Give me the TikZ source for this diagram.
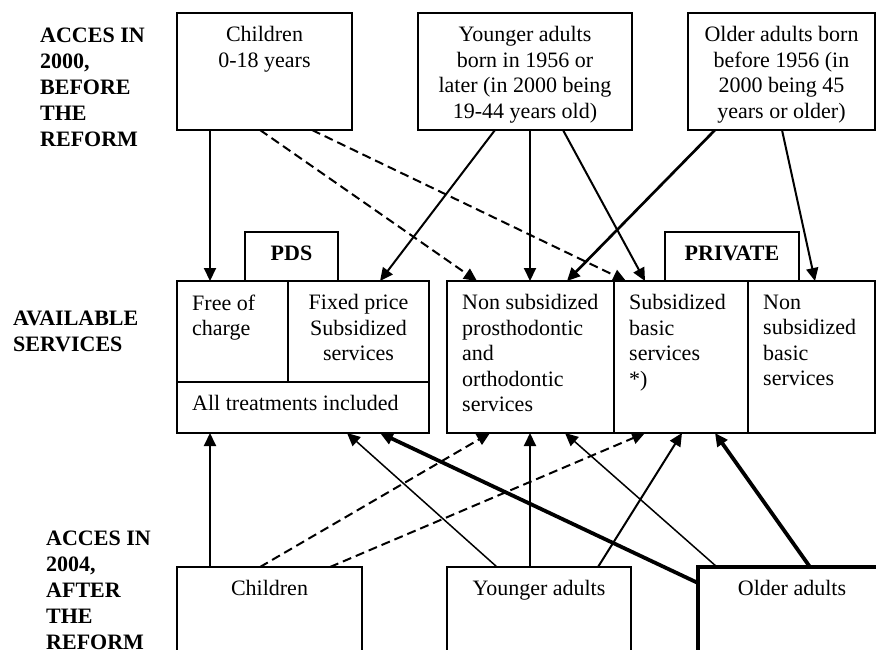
\documentclass[tikz,border=0pt]{standalone}
\usepackage{fontspec}
\setmainfont{Liberation Serif}
\usetikzlibrary{arrows.meta}

\begin{document}
\begin{tikzpicture}[x=1pt,y=-1pt,
    font=\fontsize{22}{25.5}\selectfont,
    box/.style={draw, line width=1.4pt, rectangle, anchor=north west, inner sep=0pt, outer sep=0pt},
    mid/.style={anchor=north, align=center, yshift=-13.5pt, inner sep=0pt},
    lft/.style={anchor=north west, align=left, xshift=15pt, yshift=-13.5pt, inner sep=0pt},
    head/.style={anchor=north west, align=left, inner sep=0pt, font=\fontsize{22}{26}\selectfont\bfseries},
    arr/.style={-{Triangle[length=13pt,width=12pt]}, line width=2pt},
    dsh/.style={arr, dash pattern=on 9pt off 5pt},
    lite/.style={arr, line width=1.5pt},
    thk/.style={arr, line width=3.8pt}]
    \clip (0,0) rectangle (876,649);

    % row titles
    \node[head] (hbefore) at (40,27.5) {ACCES IN\\2000,\\BEFORE\\THE\\REFORM};
    \node[head] (hserv) at (13,310.5) {AVAILABLE\\SERVICES};
    \node[head] (hafter) at (46,530.5) {ACCES IN\\2004,\\AFTER\\THE\\REFORM};

    % groups in 2000
    \node[box, minimum width=175pt, minimum height=117pt, label={[mid]north:Children\\0-18 years}] (ch0) at (177,13) {};
    \node[box, minimum width=214pt, minimum height=117pt, label={[mid]north:Younger adults\\born in 1956 or\\later (in 2000 being\\19-44 years old)}] (ya0) at (418,13) {};
    \node[box, minimum width=187pt, minimum height=117pt, label={[mid]north:Older adults born\\before 1956 (in\\2000 being 45\\years or older)}] (oa0) at (688,13) {};

    % services
    \node[box, minimum width=93pt, minimum height=49pt, label={[mid]north:\bfseries PDS}] (pds) at (245,232) {};
    \node[box, minimum width=134pt, minimum height=49pt, label={[mid]north:\bfseries PRIVATE}] (priv) at (665,232) {};
    \node[box, minimum width=111pt, minimum height=101pt, label={[lft]north west:Free of\\charge}] (free) at (177,281) {};
    \node[box, minimum width=141pt, minimum height=101pt, label={[mid]north:Fixed price\\Subsidized\\services}] (fixed) at (288,281) {};
    \node[box, minimum width=252pt, minimum height=51pt, label={[lft]north west:All treatments included}] (alltr) at (177,382) {};
    \node[box, minimum width=167pt, minimum height=152pt, label={[lft]north west:Non subsidized\\prosthodontic\\and\\orthodontic\\services}] (nsprost) at (447,281) {};
    \node[box, minimum width=134pt, minimum height=152pt, label={[lft]north west:Subsidized\\basic\\services\\*)}] (subbas) at (614,281) {};
    \node[box, minimum width=127pt, minimum height=152pt, label={[lft]north west:Non\\subsidized\\basic\\services}] (nsbas) at (748,281) {};

    % groups in 2004
    \node[box, minimum width=185pt, minimum height=100pt, label={[mid]north:Children}] (ch1) at (177,567) {};
    \node[box, minimum width=184pt, minimum height=100pt, label={[mid]north:Younger adults}] (ya1) at (447,567) {};
    \node[box, line width=3.5pt, minimum width=200pt, minimum height=100pt, label={[mid,xshift=-6pt]north:Older adults}] (oa1) at (698,567) {};

    % before the reform
    \draw[arr] ([xshift=33pt]ch0.south west) -- ([xshift=33pt]free.north west);
    \draw[dsh] ([xshift=83pt]ch0.south west) -- ([xshift=30pt]nsprost.north west);
    \draw[dsh] ([xshift=135pt]ch0.south west) -- ([xshift=12pt]subbas.north west);
    \draw[arr] ([xshift=77pt]ya0.south west) -- ([xshift=92pt]fixed.north west);
    \draw[arr] ([xshift=112pt]ya0.south west) -- ([xshift=83pt]nsprost.north west);
    \draw[arr] ([xshift=145pt]ya0.south west) -- ([xshift=31pt]subbas.north west);
    \draw[arr, line width=2.7pt] ([xshift=27pt]oa0.south west) -- ([xshift=120pt]nsprost.north west);
    \draw[arr] ([xshift=94pt]oa0.south west) -- ([xshift=67pt]nsbas.north west);

    % after the reform
    \draw[arr] ([xshift=33pt]ch1.north west) -- ([xshift=33pt]alltr.south west);
    \draw[dsh] ([xshift=83pt]ch1.north west) -- ([xshift=43pt]nsprost.south west);
    \draw[dsh] ([xshift=153pt]ch1.north west) -- ([xshift=31pt]subbas.south west);
    \draw[lite] ([xshift=50pt]ya1.north west) -- ([xshift=170pt]alltr.south west);
    \draw[arr] ([xshift=83pt]ya1.north west) -- ([xshift=83pt]nsprost.south west);
    \draw[arr] ([xshift=151pt]ya1.north west) -- ([xshift=68pt]subbas.south west);
    \draw[thk] ([yshift=-16pt]oa1.north west) -- ([xshift=203pt]alltr.south west);
    \draw[lite] ([xshift=19pt]oa1.north west) -- ([xshift=118pt]nsprost.south west);
    \draw[thk] ([xshift=112pt]oa1.north west) -- ([xshift=101pt]subbas.south west);
\end{tikzpicture}
\end{document}
